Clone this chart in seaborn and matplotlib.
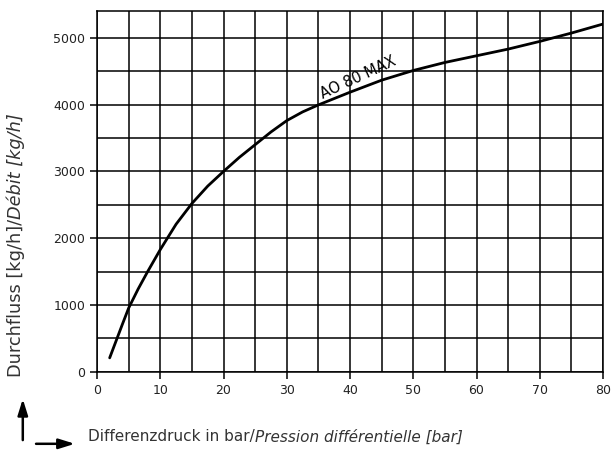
import matplotlib
matplotlib.use('Agg')
import matplotlib.pyplot as plt
import seaborn as sns
import pandas as pd
from matplotlib.ticker import MultipleLocator

# curve
pressure = [2, 3, 4, 5, 6.5, 8, 10, 12.5, 15, 17.5, 20, 22.5, 25, 27.5, 30, 32.5, 35, 40, 45, 50,
            55, 60, 65, 70, 75, 80]
flow = [210, 460, 710, 955, 1240, 1500, 1830, 2210, 2520, 2780, 3000, 3210, 3400, 3590, 3760, 3890,
        3995, 4185, 4365, 4510, 4630, 4730, 4830, 4945, 5070, 5205]
curve_label = "AO 80 MAX"

df = pd.DataFrame({'pressure': pressure, 'flow': flow})

sns.set_style("white")
plt.rcParams['font.family'] = ['DejaVu Sans']

fig = plt.figure(figsize=(6.16, 4.58), dpi=100)
ax = fig.add_axes([0.1575, 0.188, 0.8215, 0.788])

sns.lineplot(data=df, x='pressure', y='flow', ax=ax, color='black', linewidth=2.0)

ax.set_xlim(0, 80)
ax.set_ylim(0, 5400)
ax.xaxis.set_major_locator(MultipleLocator(10))
ax.xaxis.set_minor_locator(MultipleLocator(5))
ax.yaxis.set_major_locator(MultipleLocator(1000))
ax.yaxis.set_minor_locator(MultipleLocator(500))
ax.grid(True, which='both', color='black', linewidth=1.1)
ax.set_axisbelow(True)
for s in ax.spines.values():
    s.set_color('black')
    s.set_linewidth(1.1)
ax.tick_params(which='major', direction='out', length=5, width=1.1, color='black',
               labelsize=9, labelcolor='#222222', left=True, bottom=True)
ax.tick_params(which='minor', length=0)
ax.set_xlabel('')
ax.set_ylabel('')

ax.text(41.3, 4400, curve_label, rotation=25, fontsize=10.5, ha='center', va='center',
        color='black')

# axis titles with italic French part
fig.canvas.draw()
renderer = fig.canvas.get_renderer()
lab_col = '#333333'

t1 = fig.text(0.143, 0.046, "Differenzdruck in bar/", fontsize=11, color=lab_col,
              ha='left', va='center')
bb = t1.get_window_extent(renderer).transformed(fig.transFigure.inverted())
fig.text(bb.x1, 0.046, "Pression différentielle [bar]", fontsize=11, color=lab_col,
         style='italic', ha='left', va='center')

t2 = fig.text(0.026, 0.176, "Durchfluss [kg/h]/", fontsize=12.8, color=lab_col,
              rotation=90, ha='center', va='bottom')
bb = t2.get_window_extent(renderer).transformed(fig.transFigure.inverted())
fig.text(0.026, bb.y1, "Débit [kg/h]", fontsize=12.8, color=lab_col,
         style='italic', rotation=90, ha='center', va='bottom')

# direction arrows bottom left
arrow = dict(arrowstyle='-|>,head_length=0.8,head_width=0.25', color='black', lw=1.8)
fig.add_artist(matplotlib.patches.FancyArrowPatch((0.037, 0.033), (0.037, 0.135),
               transform=fig.transFigure, **arrow, mutation_scale=12))
fig.add_artist(matplotlib.patches.FancyArrowPatch((0.054, 0.031), (0.126, 0.031),
               transform=fig.transFigure, **arrow, mutation_scale=12))

plt.savefig('out.png', dpi=100)
plt.close()
